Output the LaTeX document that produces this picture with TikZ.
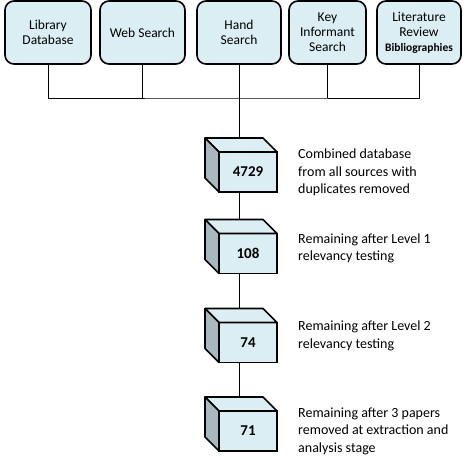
\documentclass[tikz,border=0pt]{standalone}
\usepackage{fontspec}
\setmainfont{Carlito}
\definecolor{boxblue}{RGB}{219, 238, 243}
\definecolor{sidegray}{RGB}{168, 184, 190}
\usetikzlibrary{positioning, calc}

% cube with front face as node: name, x, y, label
\newcommand{\cubebox}[4]{%
  \node[cubefront] (#1) at (#2, #3) {#4};
  \filldraw[cubeedge, fill=boxblue] (#1.north west) -- ++(-14,-14) -- ([shift={(-14,-14)}]#1.north east) -- (#1.north east) -- cycle;
  \filldraw[cubeedge, fill=sidegray] (#1.north west) -- ++(-14,-14) -- ([shift={(-14,-14)}]#1.south west) -- (#1.south west) -- cycle;
}

\begin{document}
\begin{tikzpicture}[x=1pt, y=-1pt,
  srcbox/.style={draw, line width=1.6pt, fill=boxblue, rounded corners=9pt, minimum height=63pt, align=center, inner sep=2pt, font=\fontsize{13.5}{15}\selectfont},
  cubefront/.style={draw, line width=1.6pt, fill=boxblue, minimum width=58pt, minimum height=40pt, outer sep=0pt, font=\fontsize{15}{17}\selectfont\bfseries},
  cubeedge/.style={line width=1.6pt, line join=round},
  note/.style={anchor=west, align=left, inner sep=0pt, font=\fontsize{14}{17.5}\selectfont},
  link/.style={line width=0.9pt}]
  \useasboundingbox (0,0) rectangle (466,459);

  % sources
  \node[srcbox, minimum width=86pt] (lib) at (48, 32.5) {Library\\Database};
  \node[srcbox, minimum width=85pt] (web) at (142.5, 32.5) {Web Search};
  \node[srcbox, minimum width=84pt] (hand) at (239, 32.5) {Hand\\Search};
  \node[srcbox, minimum width=77pt] (key) at (327.5, 32.5) {Key\\Informant\\Search};
  \node[srcbox, minimum width=84pt] (lit) at (419, 32.5) {Literature\\Review\\{\fontsize{11.5}{14}\selectfont\bfseries Bibliographies}};

  % bus
  \coordinate (bus) at (239, 98);
  \draw[link] (lib.south) |- (bus) -| (lit.south);
  \draw[link] (web.south) -- (web.south |- bus);
  \draw[link] (key.south) -- (key.south |- bus);

  % stages
  \cubebox{c1}{248}{172}{4729}
  \cubebox{c2}{248}{253.5}{108}
  \cubebox{c3}{248}{342.5}{74}
  \cubebox{c4}{248}{431}{71}

  \draw[link] (hand.south) -- ([yshift=14pt]c1.north -| hand.south);
  \draw[link] (c1.south -| hand.south) -- ([yshift=14pt]c2.north -| hand.south);
  \draw[link] (c2.south -| hand.south) -- ([yshift=14pt]c3.north -| hand.south);
  \draw[link] (c3.south -| hand.south) -- ([yshift=14pt]c4.north -| hand.south);

  % notes
  \node[note] (n1) at (298, 172.5) {Combined database\\from all sources with\\duplicates removed};
  \node[note] (n2) at (298, 248.5) {Remaining after Level 1\\relevancy testing};
  \node[note] (n3) at (298, 336) {Remaining after Level 2\\relevancy testing};
  \node[note] (n4) at (298, 431) {Remaining after 3 papers\\removed at extraction and\\analysis stage};
\end{tikzpicture}
\end{document}
